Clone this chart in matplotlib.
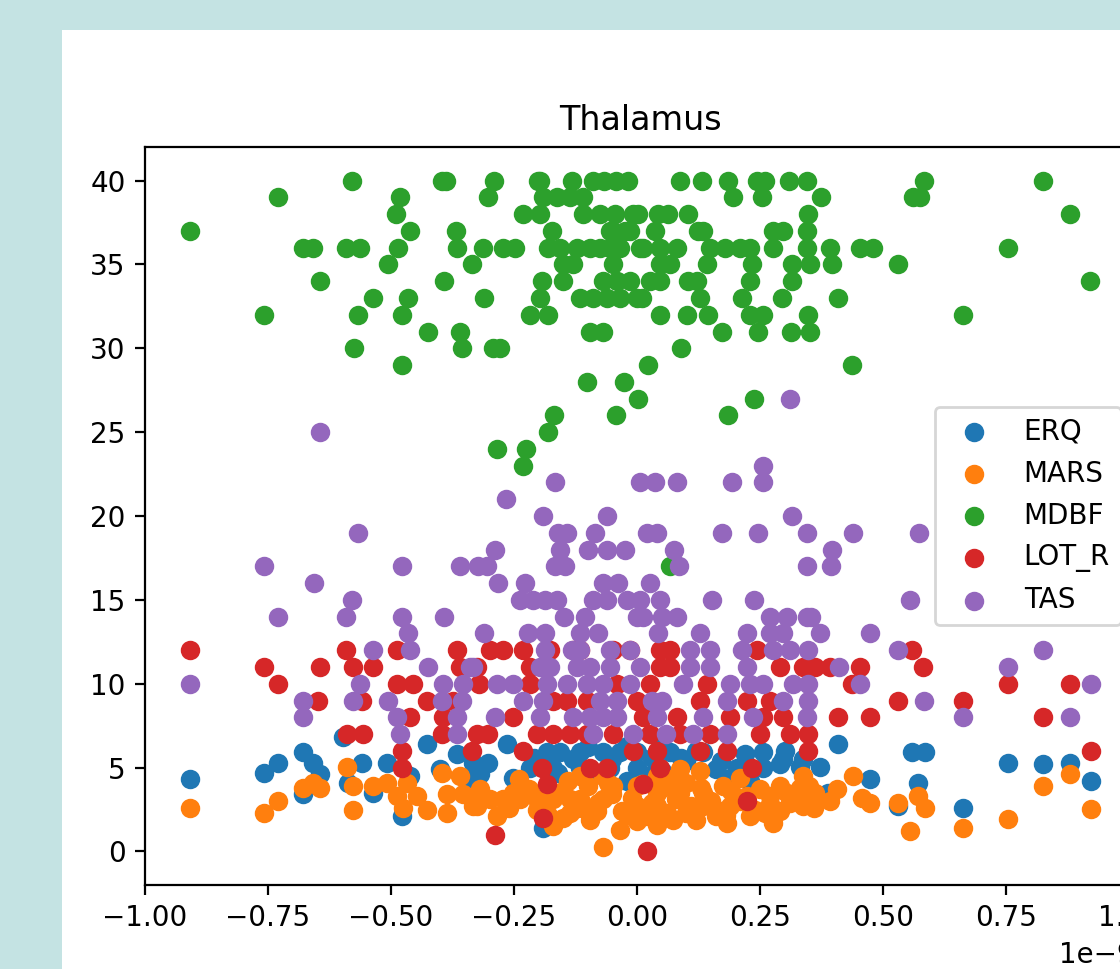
import matplotlib
matplotlib.use("Agg")
import matplotlib.pyplot as plt
from matplotlib.patches import Rectangle
import numpy as np

# x values are shown in units of 1e-9 on the axis
x_unit = 1e-9

# ERQ (blue)
erq_x = [-0.909, -0.758, -0.730, -0.679, -0.659, -0.644, -0.679, -0.598, -0.559, -0.587,
         -0.508, -0.461, -0.478, -0.427, -0.537, -0.400, -0.366, -0.333, -0.264, -0.303,
         -0.319, -0.183, -0.157, -0.116, -0.171, -0.116, -0.069, -0.035, 0.000, -0.055,
         0.000, 0.041, 0.067, 0.134, 0.203, 0.189, 0.256, 0.256, 0.297, 0.337,
         -0.191, -0.217, -0.252, -0.339, 0.409, 0.331, 0.372, 0.474, 0.388, 0.559,
         0.585, 0.571, 0.663, 0.754, 0.825, 0.880, 0.923, 0.530, -0.090, 0.020,
         0.100, 0.160, 0.230, -0.020,
         -0.210, -0.130, -0.100, -0.050, -0.020, 0.030, 0.050, 0.090, 0.120, 0.170,
         0.220, 0.290, -0.160, 0.050, 0.300]
erq_y = [4.34, 4.7, 5.3, 5.9, 5.3, 4.6, 3.4, 6.8, 5.3, 4.1,
         5.3, 4.5, 2.1, 6.4, 3.5, 4.9, 5.8, 5.3, 6.4, 5.3,
         4.6, 5.9, 5.9, 5.9, 5.0, 5.0, 5.9, 5.9, 5.9, 5.0,
         5.0, 5.9, 5.9, 5.9, 5.0, 4.4, 5.9, 5.0, 5.5, 5.5,
         1.4, 5.0, 4.4, 4.4, 6.4, 5.05, 5.05, 4.3, 3.5, 5.95,
         5.95, 4.1, 2.6, 5.3, 5.2, 5.3, 4.2, 2.7, 4.6, 4.5,
         5.4, 4.9, 4.2, 4.2,
         5.6, 5.5, 6.2, 5.5, 6.3, 5.6, 6.2, 5.6, 6.0, 5.4,
         5.8, 5.2, 4.7, 4.8, 6.0]

# MARS (orange)
mars_x = [-0.909, -0.758, -0.730, -0.679, -0.644, -0.659, -0.589, -0.577, -0.577, -0.537,
          -0.508, -0.467, -0.488, -0.447, -0.476, -0.427, -0.396, -0.386, -0.354, -0.386,
          -0.360, -0.333, -0.319, -0.299, -0.272, -0.325, -0.285, -0.238, -0.203, -0.171,
          -0.136, -0.252, -0.171, -0.116, -0.069, -0.116, -0.069, -0.096, -0.069, -0.049,
          0.000, -0.035, 0.000, 0.041, 0.041, 0.087, 0.134, 0.087, 0.128, 0.073,
          0.134, 0.189, 0.183, 0.175, 0.224, 0.270, 0.276, 0.305, 0.337, 0.337,
          0.041, 0.020, 0.067, -0.081, -0.136, -0.203, -0.333, 0.331, 0.362, 0.392,
          0.439, 0.407, 0.457, 0.474, 0.530, 0.571, 0.585, 0.555, 0.663, 0.754,
          0.825, 0.880, 0.923, -0.020, 0.100, 0.160, 0.240, -0.150, 0.290, 0.210,
          -0.190, -0.150, -0.120, -0.100, -0.080, -0.050, -0.030, -0.010, 0.010, 0.030,
          0.050, 0.060, 0.080, 0.100, 0.110, 0.130, 0.150, 0.170, 0.190, 0.210,
          0.230, 0.250, 0.270, 0.290, 0.310, 0.330, -0.220, -0.180, -0.140, -0.060,
          0.000, 0.040, 0.120, 0.180, 0.260, -0.100, -0.260, -0.240, 0.350, 0.360]
mars_y = [2.6, 2.3, 3.0, 3.8, 3.8, 4.1, 5.05, 2.5, 3.9, 3.9,
          4.1, 4.1, 3.3, 3.3, 2.6, 2.5, 4.7, 3.4, 3.4, 2.3,
          4.5, 2.7, 3.7, 3.1, 3.1, 2.7, 2.1, 3.1, 3.1, 3.1,
          3.1, 3.5, 1.5, 4.5, 4.5, 3.1, 3.1, 1.9, 0.25, 3.9,
          3.9, 1.3, 2.7, 2.7, 3.5, 3.5, 3.5, 4.9, 4.8, 1.9,
          2.7, 2.7, 1.7, 3.9, 3.3, 3.3, 1.7, 3.5, 4.5, 2.7,
          4.5, 2.1, 4.3, 2.4, 2.3, 2.5, 3.1, 3.8, 3.5, 3.0,
          4.5, 3.7, 3.2, 2.9, 2.9, 3.3, 2.6, 1.2, 1.4, 1.95,
          3.9, 4.6, 2.55, 2.2, 2.3, 2.1, 2.5, 2.0, 2.4, 4.4,
          2.8, 3.6, 2.6, 3.9, 2.9, 3.4, 2.4, 3.2, 4.0, 2.9,
          3.8, 2.3, 3.1, 4.1, 2.7, 3.8, 3.0, 2.4, 3.6, 3.0,
          2.1, 3.7, 2.8, 3.9, 2.9, 3.3, 3.7, 2.2, 4.2, 4.1,
          1.8, 1.6, 1.9, 2.2, 2.3, 2.4, 2.6, 4.3, 3.9, 2.6]

# MDBF (green)
mdbf_x = [-0.579, -0.396, -0.388, -0.291, -0.201, -0.197, -0.132, -0.089, -0.067, -0.043,
          -0.018, 0.087, 0.132, 0.185, 0.244, 0.260, 0.309, 0.346, 0.583, 0.825,
          -0.730, -0.482, -0.303, -0.191, -0.163, -0.136, -0.110, 0.195, 0.254, 0.374,
          0.561, 0.575,
          -0.490, -0.232, -0.197, -0.110, -0.075, -0.045, -0.008, 0.002, 0.043, 0.063,
          0.104, 0.348, 0.880,
          -0.909, -0.461, -0.368, -0.173, -0.049, -0.014, -0.055, -0.024, 0.037, 0.124,
          0.134, 0.276, 0.297, 0.346,
          -0.679, -0.659, -0.591, -0.563, -0.486, -0.366, -0.313, -0.272, -0.248, -0.181,
          -0.157, -0.122, -0.096, -0.075, -0.035, 0.006, -0.055, 0.012, 0.047, 0.081,
          0.148, 0.179, 0.209, 0.230, 0.276, 0.346, 0.392, 0.453, 0.480, 0.754,
          -0.506, -0.335, -0.150, -0.130, -0.049, 0.047, 0.067, 0.142, 0.234, 0.315,
          0.352, 0.396, 0.530,
          -0.644, -0.392, -0.193, -0.150, -0.069, -0.041, -0.014, 0.026, 0.047, 0.104,
          0.122, 0.230, 0.315, 0.921,
          -0.537, -0.465, -0.311, -0.197, -0.116, -0.089, -0.061, -0.035, 0.000, 0.010,
          0.128, 0.213, 0.295, 0.409,
          -0.758, -0.567, -0.478, -0.217, -0.181, 0.047, 0.102, 0.144, 0.230, 0.256,
          0.348, 0.663,
          -0.425, -0.360, -0.096, -0.069, 0.173, 0.246, 0.313, 0.352,
          -0.575, -0.356, -0.293, -0.278, 0.089,
          -0.478, 0.022, 0.437,
          -0.102, -0.026,
          0.002, 0.238,
          -0.169, -0.043, 0.185,
          -0.181,
          -0.285, -0.226,
          -0.232,
          0.067]
mdbf_y = ([40] * 20 + [39] * 12 + [38] * 13 + [37] * 14 + [36] * 30 + [35] * 13
          + [34] * 14 + [33] * 14 + [32] * 12 + [31] * 8 + [30] * 5 + [29] * 3
          + [28] * 2 + [27] * 2 + [26] * 3 + [25] * 1 + [24] * 2 + [23] * 1 + [17] * 1)

# LOT_R (red)
lot_x = [-0.909, -0.591, -0.488, -0.366, -0.299, -0.272, -0.232, -0.177, -0.130, -0.116,
         -0.049, -0.014, 0.047, 0.067, 0.244, 0.559,
         -0.758, -0.644, -0.577, -0.537, -0.360, -0.325, -0.217, 0.047, 0.067, 0.291,
         0.337, 0.362, 0.392, 0.453, 0.581,
         -0.730, -0.488, -0.455, -0.322, -0.217, -0.041, 0.026, 0.142, 0.437, 0.754,
         0.880,
         -0.648, -0.559, -0.427, -0.374, -0.171, -0.142, -0.102, 0.000, 0.128, 0.224,
         0.270, 0.530, 0.663,
         -0.461, -0.394, -0.252, 0.012, 0.081, 0.189, 0.256, 0.297, 0.409, 0.474,
         0.825,
         -0.589, -0.557, -0.396, -0.325, -0.303, -0.203, -0.171, -0.136, -0.102, -0.049,
         0.026, 0.087, 0.148, 0.250, 0.311, 0.348,
         -0.478, -0.335, -0.232, -0.008, 0.041, 0.128, 0.183, 0.348, 0.923,
         -0.478, -0.193, -0.096, -0.061, 0.047, 0.234,
         -0.183, 0.012,
         0.224,
         -0.191,
         -0.289,
         0.020]
lot_y = ([12] * 16 + [11] * 15 + [10] * 11 + [9] * 13 + [8] * 11 + [7] * 16
         + [6] * 9 + [5] * 6 + [4] * 2 + [3] + [2] + [1] + [0])

# TAS (purple)
tas_x = [0.311,
         -0.644,
         0.256,
         -0.167, 0.006, 0.037, 0.081, 0.193, 0.256,
         -0.266,
         -0.191, -0.061, 0.315,
         -0.567, -0.161, -0.142, -0.085, 0.020, 0.041, 0.173, 0.246, 0.346, 0.439,
         0.573,
         -0.289, -0.157, -0.100, -0.061, -0.024, 0.075, 0.396,
         -0.758, -0.478, -0.360, -0.323, -0.305, -0.167, -0.146, 0.085, 0.346, 0.394,
         -0.657, -0.283, -0.228, -0.069, -0.039, 0.026,
         -0.579, -0.238, -0.211, -0.187, -0.163, -0.089, -0.061, -0.020, 0.006, 0.047,
         0.152, 0.238, 0.555,
         -0.730, -0.591, -0.478, -0.392, -0.148, -0.106, 0.000, 0.012, 0.051, 0.081,
         0.270, 0.305, 0.346, 0.354,
         -0.465, -0.311, -0.222, -0.187, -0.116, -0.079, 0.043, 0.128, 0.224, 0.270,
         0.297, 0.372, 0.474,
         -0.537, -0.461, -0.187, -0.132, -0.116, -0.055, -0.014, 0.108, 0.148, 0.213,
         0.276, 0.311, 0.348, 0.530, 0.825,
         -0.425, -0.339, -0.333, -0.197, -0.177, -0.122, -0.096, -0.055, 0.006, 0.108,
         0.148, 0.224, 0.411, 0.754,
         -0.909, -0.563, -0.394, -0.354, -0.285, -0.252, -0.183, -0.142, -0.102, -0.069,
         -0.014, 0.093, 0.189, 0.230, 0.256, 0.317, 0.348, 0.453, 0.923,
         -0.679, -0.577, -0.506, -0.396, -0.356, -0.232, -0.191, -0.075, -0.041, 0.030,
         0.051, 0.183, 0.297, 0.348, 0.583,
         -0.679, -0.488, -0.366, -0.289, -0.197, -0.130, -0.096, -0.069, -0.041, 0.041,
         0.134, 0.236, 0.346, 0.663, 0.880,
         -0.482, -0.366, -0.089, -0.008, 0.059, 0.114, 0.183]
tas_y = ([27] + [25] + [23] + [22] * 6 + [21] + [20] * 3 + [19] * 11 + [18] * 7
         + [17] * 10 + [16] * 6 + [15] * 13 + [14] * 14 + [13] * 13 + [12] * 15
         + [11] * 14 + [10] * 19 + [9] * 15 + [8] * 15 + [7] * 7)

series = [("ERQ", erq_x, erq_y), ("MARS", mars_x, mars_y), ("MDBF", mdbf_x, mdbf_y),
          ("LOT_R", lot_x, lot_y), ("TAS", tas_x, tas_y)]

fig = plt.figure(figsize=(5.6, 4.845), dpi=200, facecolor="#c4e3e3")
# white card behind the plot
fig.patches.append(Rectangle((62 / 1120, 0), 1, 1 - 30 / 969, transform=fig.transFigure,
                             facecolor="white", edgecolor="none", zorder=-1))

ax = fig.add_axes([145 / 1120, 84 / 969, 990 / 1120, 738 / 969])
for name, xs, ys in series:
    ax.scatter(np.array(xs) * x_unit, ys, label=name)

ax.set_xlim(-1.0 * x_unit, 1.012 * x_unit)
ax.set_ylim(-2, 42)
ax.set_title("Thalamus")
ax.legend(loc="center right")

fig.savefig("out.png", dpi=200, facecolor=fig.get_facecolor())
